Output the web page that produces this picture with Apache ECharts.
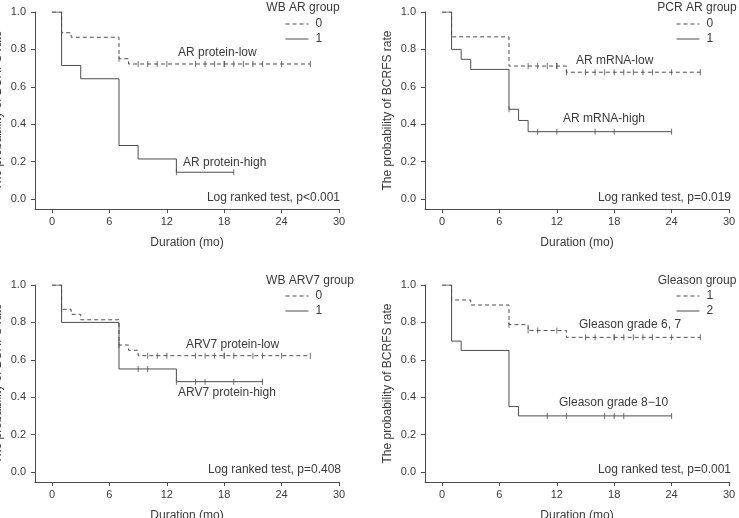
<!DOCTYPE html>
<html>
<head>
<meta charset="utf-8">
<script src="https://cdn.jsdelivr.net/npm/echarts@6/dist/echarts.min.js"></script>
<style>
  html, body { margin: 0; padding: 0; background: #fff; }
  #chart { width: 739px; height: 518px; }
</style>
</head>
<body>
<div id="chart"></div>
<script>
// tick labels
var xTicks = [0, 6, 12, 18, 24, 30];
var yTicks = [0, 0.2, 0.4, 0.6, 0.8, 1.0];

// WB AR group (panel 1)
var wbAr0Time = [0, 1, 2, 7, 8, 27];
var wbAr0Surv = [1, 0.889, 0.865, 0.75, 0.722, 0.722];
var wbAr0Cens = [1, 7, 9, 10, 11, 12, 15, 16, 17, 18, 18, 19, 20, 21, 22, 24, 27];
var wbAr1Time = [0, 1, 3, 7, 9, 13, 19];
var wbAr1Surv = [1, 0.714, 0.643, 0.286, 0.214, 0.143, 0.143];
var wbAr1Cens = [13, 19];

// PCR AR group (panel 2)
var pcrAr0Time = [0, 1, 7, 13, 27];
var pcrAr0Surv = [1, 0.867, 0.711, 0.678, 0.678];
var pcrAr0Cens = [9, 10, 11, 12, 12, 13, 15, 16, 17, 18, 19, 20, 21, 22, 24, 27];
var pcrAr1Time = [0, 1, 2, 3, 7, 8, 9, 24];
var pcrAr1Surv = [1, 0.8, 0.747, 0.693, 0.48, 0.42, 0.36, 0.36];
var pcrAr1Cens = [7, 10, 12, 16, 18, 24];

// WB ARV7 group (panel 3)
var arv70Time = [0, 1, 2, 3, 7, 8, 9, 27];
var arv70Surv = [1, 0.87, 0.843, 0.814, 0.679, 0.651, 0.622, 0.622];
var arv70Cens = [1, 7, 10, 11, 12, 15, 16, 17, 18, 18, 19, 21, 22, 24, 27];
var arv71Time = [0, 1, 7, 13, 22];
var arv71Surv = [1, 0.8, 0.551, 0.483, 0.483];
var arv71Cens = [9, 10, 13, 15, 16, 19, 22];

// Gleason group (panel 4)
var gl1Time = [0, 1, 3, 7, 9, 13, 27];
var gl1Surv = [1, 0.92, 0.893, 0.788, 0.757, 0.72, 0.72];
var gl1Cens = [1, 7, 9, 10, 12, 15, 16, 18, 18, 19, 20, 21, 22, 24, 27];
var gl2Time = [0, 1, 2, 7, 8, 24];
var gl2Surv = [1, 0.7, 0.65, 0.35, 0.3, 0.3];
var gl2Cens = [11, 13, 17, 18, 19, 24];

var FONT = '"Liberation Sans", Arial, sans-serif';
var TEXT_COLOR = '#3a3a3a';
var LINE_COLOR = '#4d4d4d';

// value of the step curve at t (after any drop at t)
function survAt(times, surv, t) {
    var v = surv[0];
    for (var i = 0; i < times.length; i++) {
        if (times[i] <= t) v = surv[i];
    }
    return v;
}

function kmSeries(name, times, surv, cens, dashed, idx) {
    var line = {
        name: name,
        type: 'line',
        step: 'end',
        xAxisIndex: idx,
        yAxisIndex: idx,
        symbol: 'none',
        showSymbol: false,
        silent: true,
        lineStyle: { color: LINE_COLOR, width: 1, type: dashed ? [4, 3] : 'solid' },
        itemStyle: { color: LINE_COLOR },
        data: times.map(function (t, i) { return [t, surv[i]]; })
    };
    var marks = {
        name: name + '_cens',
        type: 'scatter',
        xAxisIndex: idx,
        yAxisIndex: idx,
        symbol: 'rect',
        symbolSize: [1, 6],
        silent: true,
        itemStyle: { color: LINE_COLOR },
        data: cens.map(function (t) { return [t, survAt(times, surv, t)]; })
    };
    return [line, marks];
}

// panel boxes: left of y axis line, top of 1.0
var panels = [
    { left: 35, top: 12 },
    { left: 425, top: 12 },
    { left: 35, top: 285 },
    { left: 425, top: 285 }
];
var AX_W = 304, AX_H = 197, X_MIN = -1.78, Y_MIN = -0.0535;

var grids = [], xAxes = [], yAxes = [], legends = [];
panels.forEach(function (p, i) {
    grids.push({ left: p.left, top: p.top, width: AX_W, height: AX_H, outerBoundsMode: 'none', containLabel: false });
    xAxes.push({
        gridIndex: i, type: 'value', min: X_MIN, max: 30,
        name: 'Duration (mo)', nameLocation: 'middle', nameGap: 28,
        nameTextStyle: { color: TEXT_COLOR, fontFamily: FONT, fontSize: 12 },
        axisLine: { show: true, onZero: false, lineStyle: { color: LINE_COLOR, width: 1 } },
        axisTick: { show: true, length: 4, inside: false, customValues: xTicks, lineStyle: { color: LINE_COLOR } },
        axisLabel: { customValues: xTicks, margin: 7, color: TEXT_COLOR, fontFamily: FONT, fontSize: 11 },
        splitLine: { show: false }
    });
    yAxes.push({
        gridIndex: i, type: 'value', min: Y_MIN, max: 1,
        name: 'The probability of BCRFS rate', nameLocation: 'middle', nameGap: 31,
        nameTextStyle: { color: TEXT_COLOR, fontFamily: FONT, fontSize: 12 },
        axisLine: { show: true, onZero: false, lineStyle: { color: LINE_COLOR, width: 1 } },
        axisTick: { show: true, length: 4, customValues: yTicks, lineStyle: { color: LINE_COLOR } },
        axisLabel: {
            customValues: yTicks, margin: 9, color: TEXT_COLOR, fontFamily: FONT, fontSize: 11,
            formatter: function (v) { return v.toFixed(1); }
        },
        splitLine: { show: false }
    });
});

var series = [].concat(
    kmSeries('a_0', wbAr0Time, wbAr0Surv, wbAr0Cens, true, 0),
    kmSeries('a_1', wbAr1Time, wbAr1Surv, wbAr1Cens, false, 0),
    kmSeries('b_0', pcrAr0Time, pcrAr0Surv, pcrAr0Cens, true, 1),
    kmSeries('b_1', pcrAr1Time, pcrAr1Surv, pcrAr1Cens, false, 1),
    kmSeries('c_0', arv70Time, arv70Surv, arv70Cens, true, 2),
    kmSeries('c_1', arv71Time, arv71Surv, arv71Cens, false, 2),
    kmSeries('d_1', gl1Time, gl1Surv, gl1Cens, true, 3),
    kmSeries('d_2', gl2Time, gl2Surv, gl2Cens, false, 3)
);

function legendFor(names, left, top) {
    return {
        data: names, orient: 'vertical', left: left, top: top,
        itemWidth: 23, itemHeight: 10, itemGap: 3, padding: 0, selectedMode: false,
        itemStyle: { opacity: 0 },
        lineStyle: { width: 1 },
        formatter: function (n) { return n.split('_')[1]; },
        textStyle: { color: TEXT_COLOR, fontFamily: FONT, fontSize: 12, padding: [0, 0, 0, 2] }
    };
}
legends.push(legendFor(['a_0', 'a_1'], 285, 18));
legends.push(legendFor(['b_0', 'b_1'], 676, 18));
legends.push(legendFor(['c_0', 'c_1'], 285, 290));
legends.push(legendFor(['d_1', 'd_2'], 676, 290));

function txt(s, x, y, align) {
    return {
        type: 'text', x: x, y: y, silent: true,
        style: { text: s, fill: TEXT_COLOR, font: '12px ' + FONT, align: align || 'left', verticalAlign: 'middle' }
    };
}

var graphics = [
    txt('WB AR group', 303, 8, 'center'),
    txt('AR protein-low', 178, 53),
    txt('AR protein-high', 183, 163),
    txt('Log ranked test, p<0.001', 340, 198, 'right'),

    txt('PCR AR group', 697, 8, 'center'),
    txt('AR mRNA-low', 576, 61),
    txt('AR mRNA-high', 563, 119),
    txt('Log ranked test, p=0.019', 731, 198, 'right'),

    txt('WB ARV7 group', 310, 281, 'center'),
    txt('ARV7 protein-low', 186, 345),
    txt('ARV7 protein-high', 178, 393),
    txt('Log ranked test, p=0.408', 341, 470, 'right'),

    txt('Gleason group', 697, 281, 'center'),
    txt('Gleason grade 6, 7', 579, 325),
    txt('Gleason grade 8\u221210', 559, 403),
    txt('Log ranked test, p=0.001', 731, 470, 'right')
];

var option = {
    animation: false,
    backgroundColor: '#ffffff',
    textStyle: { fontFamily: FONT },
    grid: grids,
    xAxis: xAxes,
    yAxis: yAxes,
    legend: legends,
    series: series,
    graphic: graphics
};

var chart = echarts.init(document.getElementById('chart'));
chart.setOption(option);
</script>
</body>
</html>
